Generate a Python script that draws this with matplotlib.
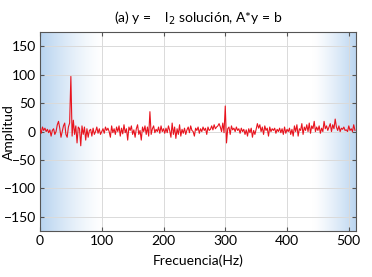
import numpy as np
import matplotlib
matplotlib.use("Agg")
import matplotlib.pyplot as plt

plt.rcParams['font.family'] = ['Lato', 'DejaVu Sans']
plt.rcParams['font.size'] = 10

# amplitude spectrum, read every 2 Hz from the picture
amp = [5, -3, 8, 2, 6, 0, 4, -2, 3, -8, 2, 5, -5, 0, 12, 18, 6, -10, 0, 10, 15, -5, -10, 8, 15,
       97, -8, 20, -5, 10, -20, 8, 5, -25, 10, -5, 8, -15, 5, -10, 2, 4, -8, 6, -5, 0, 8, -3, 5, -5,
       0, 5, -3, 8, 2, 6, 0, -10, 10, -2, 5, -5, 8, 0, 10, -8, 6, -4, 12, -2, 5, -15, 8, 2, 10, -5,
       3, -10, 5, 12, -5, 2, -15, 8, 0, 10, -5, 8, -8, 35, -5, 5, 10, -2, 4, 0, 8, -3, 10, 0, 5,
       -3, 6, -2, 10, 2, -10, 15, -5, 8, -12, 5, -5, 12, -8, 4, -3, 6, -5, 3, 8, -2, 10, 2, 0, -8,
       6, 2, 8, -3, 5, 0, 8, 2, 6, -5, 8, 2, 4, 10, 3, 12, 5, 8, 10, 14, 8, 0, 15, -2, 45, -20, 5,
       8, -5, 10, 3, 6, 0, 8, 2, 5, -3, 6, 0, 4, -5, 3, -8, 5, -2, 6, -10, 2, -5, 4, 14, 6,
       12, 0, 8, -5, 10, 2, 6, -8, 8, 0, 5, 2, 6, -3, 4, 0, 6, -2, 5, -5, 8, -3, 4,
       0, 6, -5, 4, -8, 10, 0, 12, -8, 5, 2, 14, -5, 8, 2, 12, 0, 15, -3, 10, 5, 18, 0, 8, 2,
       10, -3, 6, 0, 18, 5, 10, 2, 8, 14, 0, 12, 5, 22, 8, 2, 10, 0, 6, 4, 8, 2, 3, 0, 10, 2, 5, 0, 12, 2]
freq = np.linspace(0, 510, len(amp))

xticks = [0, 100, 200, 300, 400, 500]
yticks = [-150, -100, -50, 0, 50, 100, 150]

fig = plt.figure(figsize=(3.72, 2.77), dpi=100)
ax = fig.add_axes([0.1075, 0.166, 0.85, 0.718])

# blue shading at both edges
cols = np.arange(512)
w = np.zeros(512)
w = np.where(cols < 100, (1 - cols / 100.0) ** 1.3, w)
w = np.where(cols > 440, ((cols - 440) / 72.0) ** 1.3, w)
edge = np.array([0.72, 0.83, 0.94])
img = 1 - w[:, None] * (1 - edge[None, :])
img = np.tile(img[None, :, :], (2, 1, 1))
ax.imshow(img, extent=[0, 512, -175, 175], aspect='auto', zorder=0, interpolation='bilinear')

ax.plot(freq, amp, color='#e8141e', lw=0.8, zorder=3)

ax.set_xlim(0, 512)
ax.set_ylim(-175, 175)
ax.set_xticks(xticks)
ax.set_yticks(yticks)
ax.grid(True, color='#dadada', lw=0.7, zorder=1)
ax.tick_params(direction='in', top=True, right=True, length=3, color='#555555', labelsize=10, pad=3)
for s in ax.spines.values():
    s.set_color('#555555')
    s.set_linewidth(0.8)

ax.set_xlabel('Frecuencia(Hz)', fontsize=10)
ax.xaxis.set_label_coords(0.5, -0.12)
ax.set_ylabel('Amplitud', fontsize=10)
ax.yaxis.set_label_coords(-0.078, 0.5)
ax.set_title(r'(a) y =    l$_2$ solución, A*y = b', fontsize=10, pad=7)

fig.savefig('out.png', dpi=100)
